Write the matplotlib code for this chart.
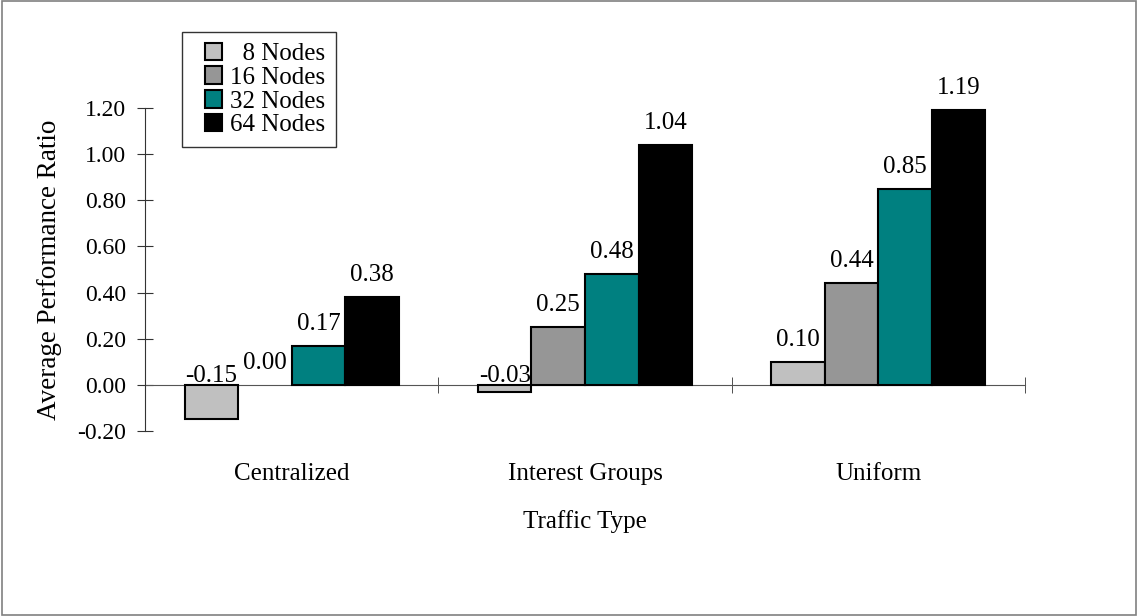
import matplotlib
matplotlib.use("Agg")
import matplotlib.pyplot as plt
import numpy as np
from matplotlib.patches import Rectangle
from matplotlib.container import BarContainer
from matplotlib.legend_handler import HandlerPatch, update_from_first_child

plt.rcParams['font.family'] = ['Liberation Serif', 'DejaVu Serif']
plt.rcParams['font.size'] = 18

# data
categories = ["Centralized", "Interest Groups", "Uniform"]
series_names = ["  8 Nodes", "16 Nodes", "32 Nodes", "64 Nodes"]
nodes_8 = [-0.15, -0.03, 0.10]
nodes_16 = [0.00, 0.25, 0.44]
nodes_32 = [0.17, 0.48, 0.85]
nodes_64 = [0.38, 1.04, 1.19]
colors = ["#c0c0c0", "#969696", "#008080", "#000000"]


def square_handle(legend, orig_handle, xdescent, ydescent, width, height, fontsize):
    # small square sitting at the right end of the handle box
    return Rectangle((-xdescent + width - height, -ydescent), height, height)


fig = plt.figure(figsize=(11.38, 6.16), dpi=100)
ax = fig.add_axes([0.1274, 0.3003, 0.7733, 0.5244])

x = np.arange(len(categories))
width = 0.1826
series = [nodes_8, nodes_16, nodes_32, nodes_64]
all_bars = []
for i, vals in enumerate(series):
    pos = x + (i - 1.5) * width
    bars = ax.bar(pos, vals, width, color=colors[i], edgecolor="black",
                  linewidth=1.5, label=series_names[i], zorder=3)
    all_bars.append(bars)
    for p, v in zip(pos, vals):
        if v < 0:
            ax.annotate("%.2f" % v, (p, 0), xytext=(0, -1.5), textcoords="offset points",
                        ha="center", va="bottom", fontsize=18)
        else:
            ax.annotate("%.2f" % v, (p, v), xytext=(0, 8), textcoords="offset points",
                        ha="center", va="bottom", fontsize=18)

ax.set_xlim(-0.5, 2.5)
ax.set_ylim(-0.2, 1.2)
ax.set_yticks(np.arange(-0.2, 1.21, 0.2))
ax.set_yticklabels(["%.2f" % t for t in np.arange(-0.2, 1.21, 0.2)], fontsize=17)

for s in ["top", "right"]:
    ax.spines[s].set_visible(False)
ax.spines["left"].set_color("#333333")
ax.spines["bottom"].set_position(("data", 0))
ax.spines["bottom"].set_color("#555555")
ax.spines["bottom"].set_zorder(2)

ax.set_xticks(x)
ax.set_xticklabels(categories)
ax.set_xticks([-0.5, 0.5, 1.5, 2.5], minor=True)
ax.tick_params(axis="x", which="major", length=0, pad=56)
ax.tick_params(axis="x", which="minor", direction="inout", length=11, color="#333333")
ax.tick_params(axis="y", direction="inout", length=11.5, pad=8, color="#333333")

ax.set_xlabel("Traffic Type", labelpad=18)
ax.set_ylabel("Average Performance Ratio", fontsize=19.5, labelpad=11)

leg = ax.legend(loc="upper left", bbox_to_anchor=(0.042, 1.235), borderaxespad=0,
                frameon=True, fancybox=False, edgecolor="black",
                handlelength=1.2, handleheight=0.7, handletextpad=0.3,
                labelspacing=0.05, borderpad=0.42, fontsize=18,
                handler_map={BarContainer: HandlerPatch(patch_func=square_handle,
                                                        update_func=update_from_first_child)})
leg.get_frame().set_linewidth(1.0)

# zero-height bars: only the axis line shows there
for bars in all_bars:
    for b in bars:
        if b.get_height() == 0:
            b.set_linewidth(0)

# border round the whole picture
fig.patches.append(Rectangle((0.002, 0.002), 0.996, 0.996, transform=fig.transFigure,
                             fill=False, edgecolor="#808080", linewidth=1.2))

fig.savefig("out.png", dpi=100)
